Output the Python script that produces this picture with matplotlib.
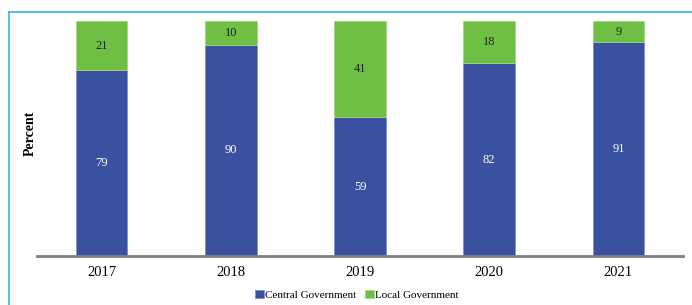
import matplotlib.pyplot as plt
from matplotlib.lines import Line2D
import numpy as np

years = ['2017', '2018', '2019', '2020', '2021']
central = [79, 90, 59, 82, 91]
local = [21, 10, 41, 18, 9]

blue = '#3a51a0'
green = '#6fbf45'

plt.rcParams['font.family'] = ['Liberation Serif', 'DejaVu Serif']

fig = plt.figure(figsize=(6.92, 3.05), dpi=100)
ax = fig.add_axes([37 / 692, 1 - 256 / 305, 646 / 692, 235 / 305])

x = np.arange(len(years))
w = 0.4
b1 = ax.bar(x, central, w, color=blue, edgecolor='#8090c8', linewidth=0.6,
            label='Central Government')
b2 = ax.bar(x, local, w, bottom=central, color=green, edgecolor='#a0d880',
            linewidth=0.6, label='Local Government')

for i in range(len(years)):
    ax.text(x[i], central[i] / 2, str(central[i]), ha='center', va='center',
            color='white', fontsize=9)
    ax.text(x[i], central[i] + local[i] / 2, str(local[i]), ha='center',
            va='center', color='#222222', fontsize=9)

ax.set_xlim(-0.5, 4.5)
ax.set_ylim(0, 100)
ax.set_xticks(x)
ax.set_xticklabels(years, fontsize=10.5)
ax.tick_params(axis='x', length=0, pad=7)
ax.set_yticks([])
for s in ['top', 'right', 'left']:
    ax.spines[s].set_visible(False)
ax.spines['bottom'].set_color('#808080')
ax.spines['bottom'].set_linewidth(2)

fig.text(30 / 692, 1 - 133 / 305, 'Percent', rotation=90, ha='center',
         va='center', fontsize=10, fontweight='bold')

fig.legend(handles=[b1, b2], loc='center', bbox_to_anchor=(357 / 692, 1 - 295 / 305),
           ncol=2, frameon=False, fontsize=8, handlelength=0.75, handleheight=0.75,
           handletextpad=0.15, columnspacing=0.8, borderaxespad=0)

# light blue frame lines
fig.add_artist(Line2D([9 / 692, 1], [1 - 12 / 305, 1 - 12 / 305],
                      transform=fig.transFigure, color='#3ab4e6', linewidth=1.2))
fig.add_artist(Line2D([9 / 692, 9 / 692], [0, 1 - 12 / 305],
                      transform=fig.transFigure, color='#3ab4e6', linewidth=1.2))

fig.savefig('out.png', dpi=100)
